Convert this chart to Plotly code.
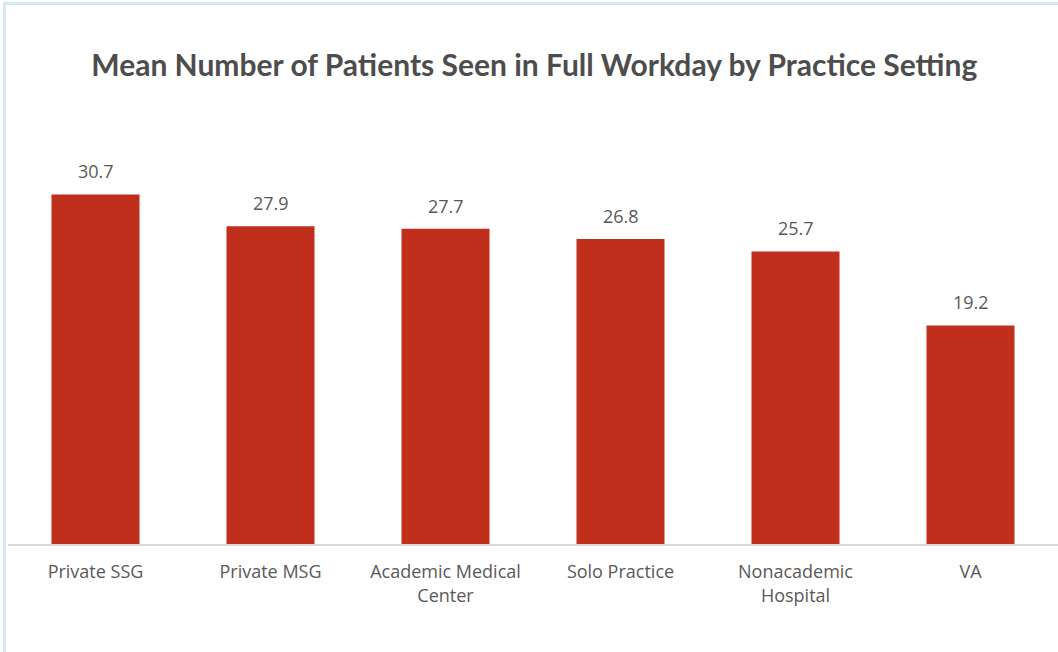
import plotly.graph_objects as go

# Mean patients seen per full workday, by practice setting
settings = ["Private SSG", "Private MSG", "Academic Medical<br>Center", "Solo Practice",
            "Nonacademic<br>Hospital", "VA"]
mean_patients = [30.7, 27.9, 27.7, 26.8, 25.7, 19.2]
value_labels = ["30.7", "27.9", "27.7", "26.8", "25.7", "19.2"]

# the "t" before "i" gets its own styled run so the font's "ti" ligature is not used
_t = "<span style='color:#4c4c4c'>t</span>"
chart_title = "Mean Number of Pa" + _t + "ients Seen in Full Workday by Practice Se" + _t + "ting"

BAR_COLOR = "#bf2f1c"
TEXT_COLOR = "#595959"
FRAME_COLOR = "#d3ebef"
LABEL_FONT = "Open Sans"

fig = go.Figure(
    go.Bar(
        x=settings,
        y=mean_patients,
        marker=dict(color=BAR_COLOR, line=dict(width=0)),
        hoverinfo="skip",
    )
)

# value labels sit a little above each bar
for cat, val, lab in zip(settings, mean_patients, value_labels):
    fig.add_annotation(
        x=cat, y=val, text=lab, showarrow=False,
        yanchor="bottom", yshift=9,
        font=dict(family=LABEL_FONT, size=18, color=TEXT_COLOR),
    )

fig.update_layout(
    width=1058,
    height=652,
    margin=dict(l=8, r=0, t=100, b=108),
    paper_bgcolor="white",
    plot_bgcolor="white",
    bargap=0.497,
    showlegend=False,
    title=dict(
        text="<b>" + chart_title + "</b>",
        x=0.505,
        xanchor="center",
        y=0.899,
        yanchor="middle",
        font=dict(family="Lato", size=30, color="#4d4d4d"),
    ),
    xaxis=dict(
        showline=True,
        linecolor="#d9d9d9",
        linewidth=1.5,
        ticks="",
        showgrid=False,
        ticklabelstandoff=11,
        tickfont=dict(family=LABEL_FONT, size=18, color=TEXT_COLOR),
        fixedrange=True,
    ),
    yaxis=dict(
        range=[0, 39],
        visible=False,
        showgrid=False,
        zeroline=False,
        fixedrange=True,
    ),
    shapes=[
        # light frame along the top and left edges of the card
        dict(type="line", xref="paper", yref="paper",
             x0=-3.5 / 1050, x1=1.1, y0=540.5 / 444, y1=540.5 / 444,
             line=dict(color=FRAME_COLOR, width=3)),
        dict(type="line", xref="paper", yref="paper",
             x0=-3.5 / 1050, x1=-3.5 / 1050, y0=542 / 444, y1=-0.3,
             line=dict(color=FRAME_COLOR, width=3)),
    ],
)

fig.write_html("out.html")
